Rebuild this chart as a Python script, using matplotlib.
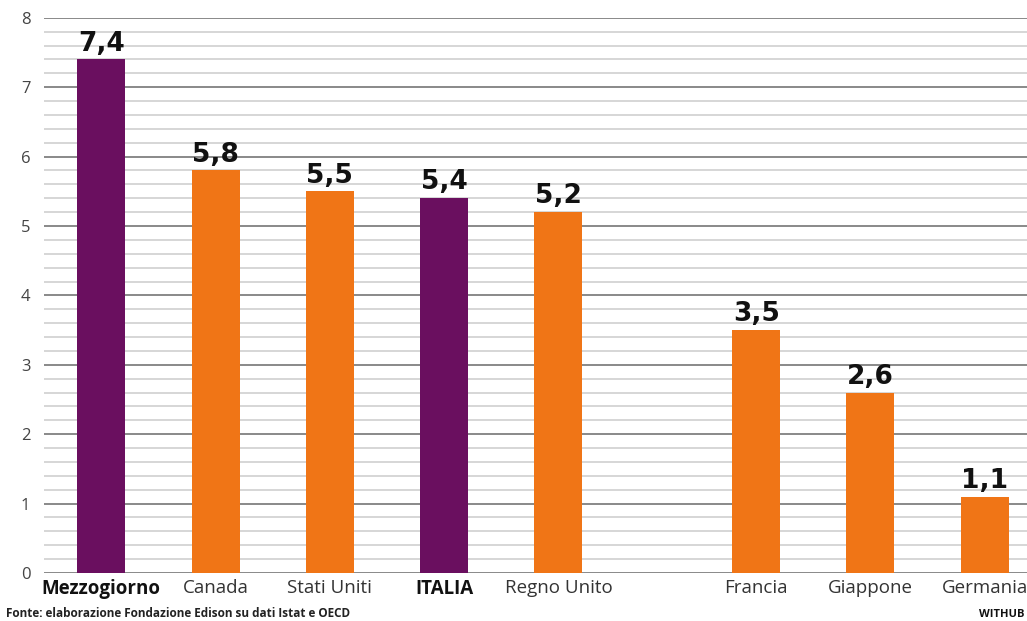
import numpy as np
import matplotlib.pyplot as plt

paesi = ["Mezzogiorno", "Canada", "Stati Uniti", "ITALIA", "Regno Unito",
         "Francia", "Giappone", "Germania"]
valori = [7.4, 5.8, 5.5, 5.4, 5.2, 3.5, 2.6, 1.1]
evidenziati = ["Mezzogiorno", "ITALIA"]

VIOLA = "#6a0f5f"
ARANCIO = "#f07516"

plt.rcParams["font.family"] = ["Open Sans", "DejaVu Sans"]

fig = plt.figure(figsize=(10.27, 6.21), dpi=100)
ax = fig.add_axes([0.043, 0.0773, 0.957, 0.894])

# secondo gruppo spostato a destra
pos = np.arange(len(paesi)) + np.where(np.arange(len(paesi)) >= 5, 0.73, 0.0)
colori = [VIOLA if p in evidenziati else ARANCIO for p in paesi]

# griglia fitta ogni 0,2, più scura sugli interi
for y in np.arange(0, 8.01, 0.2):
    intero = abs(y - round(y)) < 1e-6
    ax.axhline(y, color="#808080" if intero else "#cccccc",
               lw=1.3 if intero else 1.1, zorder=0)

ax.bar(pos, valori, width=0.42, color=colori, zorder=2)

for x, v in zip(pos, valori):
    ax.text(x, v + 0.04, f"{v:.1f}".replace(".", ","), ha="center", va="bottom",
            fontsize=19, fontweight="bold", color="#111111",
            family=["DejaVu Sans"])

ax.set_xlim(-0.5, 8.1)
ax.set_ylim(0, 8)
ax.set_yticks(range(0, 9))
ax.set_yticklabels([str(i) for i in range(0, 9)], fontsize=12, color="#444444")
ax.set_xticks(pos)
ax.set_xticklabels(paesi, fontsize=13.5, color="#333333")
for lab in ax.get_xticklabels():
    if lab.get_text() in evidenziati:
        lab.set_fontweight("bold")
        lab.set_color("#111111")
ax.tick_params(axis="both", length=0)
ax.tick_params(axis="y", pad=10)
ax.tick_params(axis="x", pad=4)
for s in ax.spines.values():
    s.set_visible(False)

fig.text(0.006, 0.001, "Fonte: elaborazione Fondazione Edison su dati Istat e OECD",
         fontsize=8.5, fontweight="bold", color="#222222", ha="left", va="bottom")
fig.text(0.998, 0.001, "WITHUB", fontsize=8, fontweight="bold", color="#111111",
         ha="right", va="bottom")

fig.savefig("out.png", dpi=100)
